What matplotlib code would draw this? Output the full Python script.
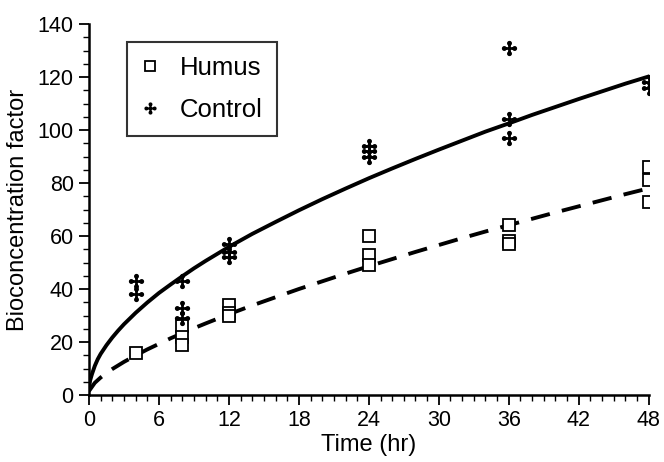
import matplotlib
matplotlib.use("Agg")
import matplotlib.pyplot as plt
from matplotlib.path import Path
from matplotlib.transforms import Affine2D
from matplotlib.ticker import MultipleLocator

plt.rcParams['font.family'] = ['Liberation Sans', 'DejaVu Sans']

# measured points
humus_t = [4, 8, 8, 8, 12, 12, 12, 24, 24, 24, 36, 36, 36, 48, 48, 48]
humus_y = [16, 26, 22, 19, 34, 31, 30, 60, 53, 49, 64, 58, 57, 86, 81, 73]

control_t = [4, 4, 8, 8, 8, 12, 12, 12, 24, 24, 24, 36, 36, 36, 48, 48]
control_y = [43, 38, 43, 33, 29, 57, 54, 52, 94, 92, 90, 131, 104, 97, 118, 116]

# fitted curves
control_fit_t = [0, 0.1, 0.25, 0.5, 0.75, 1, 1.5, 2, 2.5, 3, 4, 5, 6, 7, 8, 9, 10, 12, 14,
                 16, 18, 20, 22, 24, 26, 28, 30, 32, 34, 36, 38, 40, 42, 44, 46, 48]
control_fit = [2.5, 5.5, 7.8, 11.0, 13.5, 15.5, 18.8, 21.7, 24.3, 26.7, 31.0, 34.9, 38.5,
               41.7, 44.8, 47.8, 50.6, 55.9, 60.8, 65.3, 69.7, 73.9, 77.9, 81.8, 85.5,
               89.1, 92.6, 96.0, 99.4, 102.5, 105.7, 108.7, 111.7, 114.6, 117.5, 120.2]
humus_fit_t = [0, 0.5, 1, 1.5, 2, 3, 4, 5, 6, 7, 8, 9, 10, 12, 14, 16, 18, 20, 22, 24,
               26, 28, 30, 32, 34, 36, 38, 40, 42, 44, 46, 48]
humus_fit = [1.5, 4.6, 6.6, 8.3, 9.8, 12.5, 14.9, 17.2, 19.3, 21.4, 23.3, 25.2, 27.0,
             30.5, 33.8, 36.9, 40.0, 42.9, 45.8, 48.6, 51.3, 54.0, 56.6, 59.2, 61.7,
             64.1, 66.5, 68.9, 71.2, 73.5, 75.8, 78.0]

# four-ball cross marker
parts = [Path.unit_rectangle().transformed(Affine2D().scale(0.42, 2.0).translate(-0.21, -1.0)),
         Path.unit_rectangle().transformed(Affine2D().scale(2.0, 0.42).translate(-1.0, -0.21))]
for dx, dy in [(0, 0.8), (0, -0.8), (0.8, 0), (-0.8, 0)]:
    parts.append(Path.circle((dx, dy), 0.38))
cross = Path.make_compound_path(*parts)

fig = plt.figure(figsize=(6.64, 4.62), dpi=100)
ax = fig.add_axes([0.134, 0.145, 0.843, 0.803])

ax.plot(control_fit_t, control_fit, color='black', lw=2.8, solid_joinstyle='round')
ax.plot(humus_fit_t, humus_fit, color='black', lw=2.8, dashes=(5, 3.2))

ax.plot(humus_t, humus_y, ls='none', marker='s', ms=9, mfc='white', mec='black',
        mew=1.3, label='Humus')
ax.plot(control_t, control_y, ls='none', marker=cross, ms=11, mfc='black', mec='black',
        mew=0, label='Control')

ax.set_xlim(0, 48)
ax.set_ylim(0, 140)
ax.xaxis.set_major_locator(MultipleLocator(6))
ax.xaxis.set_minor_locator(MultipleLocator(1))
ax.yaxis.set_major_locator(MultipleLocator(20))
ax.yaxis.set_minor_locator(MultipleLocator(5))
for s in ['top', 'right']:
    ax.spines[s].set_visible(False)
for s in ['left', 'bottom']:
    ax.spines[s].set_linewidth(1.8)
ax.tick_params(which='major', length=7, width=1.3, labelsize=15.5, direction='out', pad=4)
ax.tick_params(which='minor', length=4, width=1.0, direction='out')
ax.set_xlabel('Time (hr)', fontsize=17, labelpad=2)
ax.set_ylabel('Bioconcentration factor', fontsize=17, labelpad=6)

leg = ax.legend(loc='upper left', bbox_to_anchor=(0.068, 0.951), fontsize=18.5,
                frameon=True, fancybox=False, edgecolor='black', handlelength=0.7,
                handletextpad=0.8, labelspacing=0.7, borderpad=0.55, borderaxespad=0,
                markerscale=0.8)
leg.get_frame().set_linewidth(1.5)

fig.savefig('out.png', dpi=100)
